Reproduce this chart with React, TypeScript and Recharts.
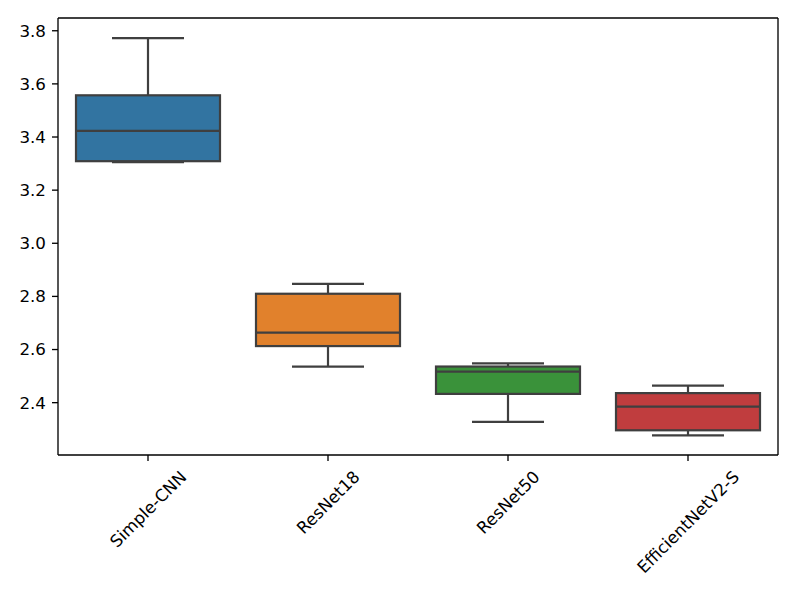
import React from "react"
import { ComposedChart, Bar, XAxis, YAxis } from "recharts"

const models = ["Simple-CNN", "ResNet18", "ResNet50", "EfficientNetV2-S"]
const whiskerLow = [3.305, 2.536, 2.328, 2.277]
const q1 = [3.309, 2.613, 2.433, 2.296]
const median = [3.423, 2.664, 2.517, 2.385]
const q3 = [3.557, 2.81, 2.536, 2.436]
const whiskerHigh = [3.772, 2.847, 2.548, 2.464]
const yTicks = [2.4, 2.6, 2.8, 3.0, 3.2, 3.4, 3.6, 3.8]

const COLORS = ["#3274a1", "#e1812c", "#3a923a", "#c03d3e"]
const LINE = "#3f3f3f"
const FS = 16.7
const FONT = "DejaVu Sans"

const data = models.map((name, i) => ({
  name,
  range: [whiskerLow[i], whiskerHigh[i]],
  low: whiskerLow[i],
  q1: q1[i],
  median: median[i],
  q3: q3[i],
  high: whiskerHigh[i],
  color: COLORS[i],
}))

let ctx: CanvasRenderingContext2D | null = null
function textWidth(s: string) {
  if (!ctx) ctx = document.createElement("canvas").getContext("2d")
  if (!ctx) return s.length * FS * 0.6
  ctx.font = `${FS}px "${FONT}"`
  return ctx.measureText(s).width
}

function XTick(props: any) {
  const { x, y, payload } = props
  const w = textWidth(payload.value)
  const half = ((w + FS * 1.16) * Math.SQRT1_2) / 2
  return (
    <text
      x={0}
      y={0}
      transform={`translate(${x},${y + 6 + half}) rotate(-45)`}
      textAnchor="middle"
      dominantBaseline="central"
      fontSize={FS}
      fontFamily={FONT}
      fill="#000"
    >
      {payload.value}
    </text>
  )
}

function BoxShape(props: any) {
  const { x, y, width, height, payload } = props
  const top = Math.min(y, y + height)
  const h = Math.abs(height)
  const lo = payload.low
  const hi = payload.high
  const toY = (v: number) => top + (h * (hi - v)) / (hi - lo)
  const cx = x + width / 2
  const capHalf = width / 4
  const yQ1 = toY(payload.q1)
  const yQ3 = toY(payload.q3)
  const yMed = toY(payload.median)
  const yLo = toY(lo)
  const yHi = toY(hi)
  const sw = 2.2
  return (
    <g>
      <line x1={cx} x2={cx} y1={yHi} y2={yQ3} stroke={LINE} strokeWidth={sw} />
      <line x1={cx} x2={cx} y1={yQ1} y2={yLo} stroke={LINE} strokeWidth={sw} />
      <line x1={cx - capHalf} x2={cx + capHalf} y1={yHi} y2={yHi} stroke={LINE} strokeWidth={sw} />
      <line x1={cx - capHalf} x2={cx + capHalf} y1={yLo} y2={yLo} stroke={LINE} strokeWidth={sw} />
      <rect x={x} y={yQ3} width={width} height={yQ1 - yQ3} fill={payload.color} stroke={LINE} strokeWidth={sw} />
      <line x1={x} x2={x + width} y1={yMed} y2={yMed} stroke={LINE} strokeWidth={sw} />
    </g>
  )
}

const spine = { stroke: "#000", strokeWidth: 1.33 }

export default function App() {
  return (
    <div style={{ position: "absolute", left: 0, top: 0, background: "#fff" }}>
      <ComposedChart
        width={797}
        height={598}
        data={data}
        margin={{ top: 17, right: 18, bottom: 13, left: 8 }}
        barCategoryGap="10%"
      >
        <XAxis
          dataKey="name"
          height={130}
          tickSize={6}
          tickMargin={0}
          tick={<XTick />}
          interval={0}
          axisLine={spine}
          tickLine={spine}
        />
        <XAxis
          xAxisId="top"
          dataKey="name"
          orientation="top"
          height={1}
          tick={false}
          tickLine={false}
          axisLine={spine}
        />
        <YAxis
          type="number"
          domain={[2.203, 3.848]}
          ticks={yTicks}
          allowDataOverflow
          width={50}
          tickSize={6}
          tickMargin={6}
          tickFormatter={(v: number) => v.toFixed(1)}
          tick={{ fontSize: FS, fontFamily: FONT, fill: "#000" }}
          axisLine={spine}
          tickLine={spine}
        />
        <YAxis
          yAxisId="right"
          orientation="right"
          type="number"
          domain={[2.203, 3.848]}
          allowDataOverflow
          width={1}
          tick={false}
          tickLine={false}
          axisLine={spine}
        />
        <Bar dataKey="range" shape={<BoxShape />} isAnimationActive={false} />
        <Bar
          dataKey="range"
          xAxisId="top"
          yAxisId="right"
          shape={() => null}
          isAnimationActive={false}
        />
      </ComposedChart>
    </div>
  )
}
